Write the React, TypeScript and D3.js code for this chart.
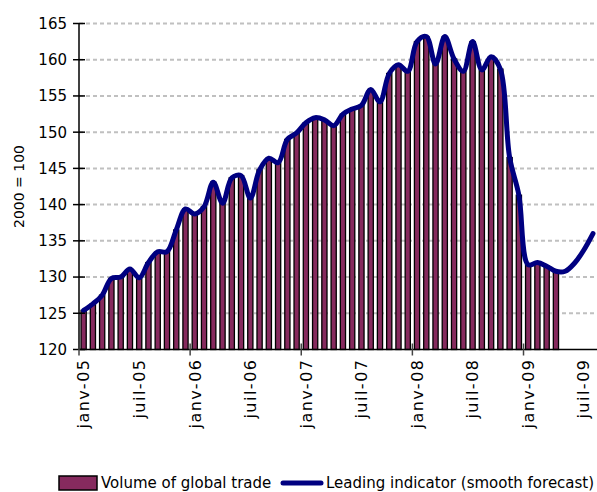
import { useEffect, useRef } from 'react';
import * as d3 from 'd3';

// monthly categories janv-05 .. août-09
const monthNames = ['janv', 'févr', 'mars', 'avr', 'mai', 'juin', 'juil', 'août', 'sept', 'oct', 'nov', 'déc'];
const months: string[] = [];
for (let y = 5; y <= 9; y++) {
  for (let m = 0; m < 12; m++) {
    if (y === 9 && m > 7) break;
    months.push(`${monthNames[m]}-0${y}`);
  }
}

// volume of global trade (2000 = 100), janv-05 .. avr-09
const tradeVolume = [
  125.4, 126.3, 127.5, 129.8, 130.0, 131.1, 129.9, 132.0, 133.5, 133.5, 136.5, 139.4,
  138.7, 139.7, 143.1, 140.2, 143.7, 144.0, 140.9, 144.8, 146.4, 145.8, 149.0, 149.9,
  151.3, 152.0, 151.7, 150.9, 152.5, 153.2, 153.7, 155.9, 154.2, 158.1, 159.3, 158.4,
  162.5, 163.2, 159.4, 163.2, 160.1, 158.4, 162.5, 158.6, 160.4, 158.7, 146.5, 141.3,
  131.7, 132.0, 131.5, 130.8,
];

// leading indicator (smooth forecast), janv-05 .. août-09
const leadingIndicator = [
  125.4, 126.3, 127.5, 129.8, 130.0, 131.1, 129.9, 132.0, 133.5, 133.5, 136.5, 139.4,
  138.7, 139.7, 143.1, 140.2, 143.7, 144.0, 140.9, 144.8, 146.4, 145.8, 149.0, 149.9,
  151.3, 152.0, 151.7, 150.9, 152.5, 153.2, 153.7, 155.9, 154.2, 158.1, 159.3, 158.4,
  162.5, 163.2, 159.4, 163.2, 160.1, 158.4, 162.5, 158.6, 160.4, 158.7, 146.5, 141.3,
  131.7, 132.0, 131.5, 130.8, 130.8, 131.9, 133.7, 136.0,
];

const yTicks = [120, 125, 130, 135, 140, 145, 150, 155, 160, 165];

const FONT = '"DejaVu Sans", sans-serif';
const BAR_COLOR = '#862a5e';
const LINE_COLOR = '#000080';

const App = () => {
  const svgRef = useRef<SVGSVGElement>(null);

  useEffect(() => {
    const svg = d3.select(svgRef.current);
    svg.selectAll('*').remove();

    const left = 79;
    const right = 597.6;
    const top = 23.5;
    const bottom = 349.5;

    const x = d3.scaleBand<string>().domain(months).range([left, right]).padding(0);
    const y = d3.scaleLinear().domain([120, 165]).range([bottom, top]);
    const bw = x.bandwidth();

    // gridlines
    svg.append('g')
      .selectAll('line')
      .data(yTicks.slice(1))
      .enter().append('line')
      .attr('x1', left)
      .attr('x2', right)
      .attr('y1', d => y(d))
      .attr('y2', d => y(d))
      .attr('stroke', '#c0c0c0')
      .attr('stroke-width', 2)
      .attr('stroke-dasharray', '4,3');

    // bars
    const barW = bw * 0.56;
    svg.append('g')
      .selectAll('rect')
      .data(tradeVolume)
      .enter().append('rect')
      .attr('x', (d, i) => x(months[i])! + (bw - barW) / 2)
      .attr('y', d => y(d))
      .attr('width', barW)
      .attr('height', d => bottom - y(d))
      .attr('fill', BAR_COLOR)
      .attr('stroke', '#000')
      .attr('stroke-width', 1.3);

    // line
    const line = d3.line<number>()
      .x((d, i) => x(months[i])! + bw / 2)
      .y(d => y(d))
      .curve(d3.curveCatmullRom.alpha(0.5));

    svg.append('path')
      .datum(leadingIndicator)
      .attr('d', line)
      .attr('fill', 'none')
      .attr('stroke', LINE_COLOR)
      .attr('stroke-width', 5)
      .attr('stroke-linejoin', 'round')
      .attr('stroke-linecap', 'round');

    // y axis
    const gy = svg.append('g');
    gy.append('line')
      .attr('x1', left).attr('x2', left)
      .attr('y1', top).attr('y2', bottom)
      .attr('stroke', '#000').attr('stroke-width', 1.5);
    gy.selectAll('.tick')
      .data(yTicks)
      .enter().append('line')
      .attr('x1', left - 6).attr('x2', left + 6)
      .attr('y1', d => y(d)).attr('y2', d => y(d))
      .attr('stroke', '#000').attr('stroke-width', 1.5);
    gy.selectAll('text')
      .data(yTicks)
      .enter().append('text')
      .attr('x', left - 12)
      .attr('y', d => y(d))
      .attr('dy', '0.36em')
      .attr('text-anchor', 'end')
      .attr('font-family', FONT)
      .attr('font-size', 15)
      .text(d => d);

    svg.append('text')
      .attr('transform', `translate(24,${(top + bottom) / 2}) rotate(-90)`)
      .attr('text-anchor', 'middle')
      .attr('font-family', FONT)
      .attr('font-size', 14)
      .text('2000 = 100');

    // x axis
    const gx = svg.append('g');
    gx.append('line')
      .attr('x1', left).attr('x2', right)
      .attr('y1', bottom).attr('y2', bottom)
      .attr('stroke', '#000').attr('stroke-width', 1.5);
    const yearStarts = months.filter((m, i) => i % 12 === 0);
    gx.selectAll('.tick')
      .data(yearStarts)
      .enter().append('line')
      .attr('x1', d => x(d)!).attr('x2', d => x(d)!)
      .attr('y1', bottom - 6).attr('y2', bottom + 6)
      .attr('stroke', '#444').attr('stroke-width', 1.5);
    const labelled = months.filter((m, i) => i % 6 === 0);
    gx.selectAll('text')
      .data(labelled)
      .enter().append('text')
      .attr('transform', d => `translate(${x(d)! + bw / 2},${bottom + 9}) rotate(-90)`)
      .attr('dy', '0.36em')
      .attr('text-anchor', 'end')
      .attr('font-family', FONT)
      .attr('font-size', 16)
      .attr('letter-spacing', 1.5)
      .text(d => d);

    // legend
    const lg = svg.append('g');
    lg.append('rect')
      .attr('x', 59).attr('y', 476)
      .attr('width', 38).attr('height', 14)
      .attr('fill', BAR_COLOR)
      .attr('stroke', '#000').attr('stroke-width', 1.5);
    lg.append('text')
      .attr('x', 101).attr('y', 488)
      .attr('font-family', FONT).attr('font-size', 15)
      .text('Volume of global trade');
    lg.append('line')
      .attr('x1', 283).attr('x2', 321)
      .attr('y1', 483).attr('y2', 483)
      .attr('stroke', LINE_COLOR).attr('stroke-width', 5)
      .attr('stroke-linecap', 'round');
    lg.append('text')
      .attr('x', 326).attr('y', 488)
      .attr('font-family', FONT).attr('font-size', 15)
      .text('Leading indicator (smooth forecast)');
  }, []);

  return (
    <div>
      <svg
        ref={svgRef}
        width={597}
        height={492}
        style={{ position: 'absolute', left: 0, top: 0, background: '#fff' }}
      />
    </div>
  );
};

export default App;
